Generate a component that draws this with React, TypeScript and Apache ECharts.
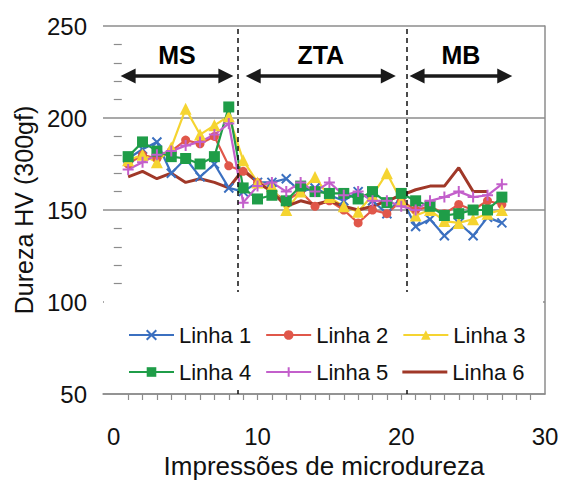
import React, { useEffect, useRef } from "react";
import * as echarts from "echarts";

const positions = [1, 2, 3, 4, 5, 6, 7, 8, 9, 10, 11, 12, 13, 14, 15, 16, 17, 18, 19, 20, 21, 22, 23, 24, 25, 26, 27];
const linha1 = [178, 183, 187, 170, 178, 168, 175, 162, 160, 165, 165, 167, 160, 162, 158, 155, 160, 155, 148, 157, 141, 145, 136, 143, 136, 146, 143];
const linha2 = [175, 180, 178, 182, 188, 186, 190, 174, 171, 165, 160, 155, 160, 152, 155, 150, 143, 150, 148, 155, 150, 152, 148, 153, 150, 155, 153];
const linha3 = [177, 180, 176, 184, 205, 191, 196, 201, 177, 165, 163, 150, 160, 168, 157, 152, 149, 158, 170, 155, 147, 150, 144, 143, 145, 148, 150];
const linha4 = [179, 187, 182, 179, 178, 175, 179, 206, 162, 156, 158, 155, 163, 160, 159, 159, 156, 160, 154, 159, 155, 152, 147, 148, 150, 150, 157];
const linha5 = [172, 176, 180, 182, 185, 187, 191, 197, 154, 163, 165, 160, 165, 160, 165, 158, 160, 155, 155, 152, 150, 155, 157, 160, 157, 158, 164];
const linha6 = [168, 171, 167, 170, 165, 167, 165, 162, 172, 165, 160, 152, 155, 153, 155, 152, 150, 152, 155, 158, 161, 163, 163, 173, 160, 160];

const seriesNames = ["Linha 1", "Linha 2", "Linha 3", "Linha 4", "Linha 5", "Linha 6"];
const xTickLabels = [0, 10, 20, 30];
const xMinorTicks = [1, 2, 3, 4, 5, 6, 7, 8, 9, 10, 11, 12, 13, 14, 15, 16, 17, 18, 19, 20, 21, 22, 23, 24, 25, 26, 27, 28, 29];
const zoneNames = ["MS", "ZTA", "MB"];
const zoneStarts = [1.0, 9.7, 21.1];
const zoneEnds = [7.8, 19.1, 27.2];
const zoneArrowLevel = 222.8;
const zoneBoundaries = [8.6, 20.4];

const FONT = "Liberation Sans, Arial, sans-serif";
const GRAY = "#8c8c8c";

const crossPath = "path://M0,0L10,10M10,0L0,10";
const plusPath = "path://M5,0L5,10M0,5L10,5";
const thickLineIcon = "path://M0,0L0,0.01M0,4.5L45,4.5L45,7.5L0,7.5ZM0,12L0,12.01";

function pairs(vals: number[]) {
  return vals.map((v, i) => [positions[i], v]);
}

export default function App() {
  const ref = useRef<HTMLDivElement>(null);
  useEffect(() => {
    document.body.style.margin = "0";
    const chart = echarts.init(ref.current!, null, { renderer: "svg" });
    const colors = ["#3b70c0", "#e0574a", "#f5d431", "#1f9d48", "#c35fcb", "#a03828"];
    const lineW = 2.2;
    const mk = (idx: number, vals: number[], symbol: string, size: number, extra: any = {}) => ({
      name: seriesNames[idx],
      type: "line",
      data: pairs(vals),
      symbol,
      symbolSize: size,
      lineStyle: { color: colors[idx], width: lineW },
      itemStyle: { color: colors[idx] },
      ...extra,
    });
    const legendText = { fontSize: 22, color: "#111", fontFamily: FONT };
    const option: any = {
      animation: false,
      textStyle: { fontFamily: FONT },
      grid: { left: 103, right: 18, top: 26, bottom: 95 },
      xAxis: {
        type: "value",
        min: -0.75,
        max: 30,
        axisLine: { show: true, lineStyle: { color: GRAY, width: 1.5 } },
        axisTick: { show: true, customValues: xMinorTicks, length: 6, lineStyle: { color: GRAY, width: 1.2 } },
        axisLabel: { customValues: xTickLabels, fontSize: 24, color: "#111", margin: 30, fontFamily: FONT },
        splitLine: { show: false },
        name: "Impressões de microdureza",
        nameLocation: "middle",
        nameGap: 58,
        nameTextStyle: { fontSize: 26, color: "#111", fontFamily: FONT },
      },
      yAxis: [
        {
          type: "value",
          min: 50,
          max: 250,
          interval: 50,
          axisLine: { show: false },
          axisTick: { show: true, inside: true, length: 0, lineStyle: { color: GRAY, width: 0 } },
          minorTick: { show: true, splitNumber: 5, length: 8, lineStyle: { color: GRAY, width: 1.2 } },
          axisLabel: { fontSize: 24, color: "#111", margin: 16, fontFamily: FONT },
          splitLine: { show: true, lineStyle: { color: GRAY, width: 1.5 } },
          name: "Dureza HV (300gf)",
          nameLocation: "middle",
          nameGap: 58,
          nameTextStyle: { fontSize: 25, color: "#111", fontFamily: FONT },
        },
        {
          type: "value",
          position: "right",
          min: 50,
          max: 250,
          interval: 50,
          axisLine: { show: true, lineStyle: { color: GRAY, width: 1.5 } },
          axisTick: { show: false },
          axisLabel: { show: false },
          splitLine: { show: false },
        },
      ],
      legend: [
        {
          data: seriesNames.slice(0, 3),
          left: 128,
          top: 324,
          padding: 0,
          itemGap: 14,
          itemWidth: 45,
          itemHeight: 12,
          z: 200,
          textStyle: legendText,
        },
        {
          data: [seriesNames[3], seriesNames[4], { name: seriesNames[5], icon: thickLineIcon }],
          left: 128,
          top: 361,
          padding: 0,
          itemGap: 14,
          itemWidth: 45,
          itemHeight: 12,
          z: 200,
          textStyle: legendText,
        },
      ],
      graphic: {
        elements: [
          {
            type: "rect",
            z: 100,
            shape: { x: 104, y: 292, width: 439, height: 98 },
            style: { fill: "#fff" },
          },
        ],
      },
      series: [
        mk(0, linha1, crossPath, 9, {
          itemStyle: { color: colors[0], borderColor: colors[0], borderWidth: 2 },
          markLine: {
            silent: true,
            symbol: "none",
            label: { show: false },
            lineStyle: { type: [5, 4], color: "#111", width: 1.5 },
            data: zoneBoundaries.map((b) => ({ xAxis: b })),
          },
        }),
        mk(1, linha2, "circle", 9),
        mk(2, linha3, "triangle", 12),
        mk(3, linha4, "rect", 11),
        mk(4, linha5, plusPath, 11, {
          itemStyle: { color: colors[4], borderColor: colors[4], borderWidth: 2 },
        }),
        mk(5, linha6, "none", 0, {
          lineStyle: { color: colors[5], width: 3 },
          markLine: {
            silent: true,
            symbol: ["triangle", "triangle"],
            symbolSize: 15,
            lineStyle: { type: "solid", color: "#1a1a1a", width: 3.5 },
            label: {
              show: true,
              position: "insideMiddleTop",
              formatter: "{b}",
              fontSize: 25,
              fontWeight: "bold",
              color: "#000",
              distance: 9,
              fontFamily: FONT,
            },
            data: zoneNames.map((n, k) => [
              { name: n, coord: [zoneStarts[k], zoneArrowLevel] },
              { coord: [zoneEnds[k], zoneArrowLevel] },
            ]),
          },
        }),
      ],
    };
    chart.setOption(option);
    return () => chart.dispose();
  }, []);
  return <div ref={ref} style={{ width: 563, height: 489 }} />;
}
